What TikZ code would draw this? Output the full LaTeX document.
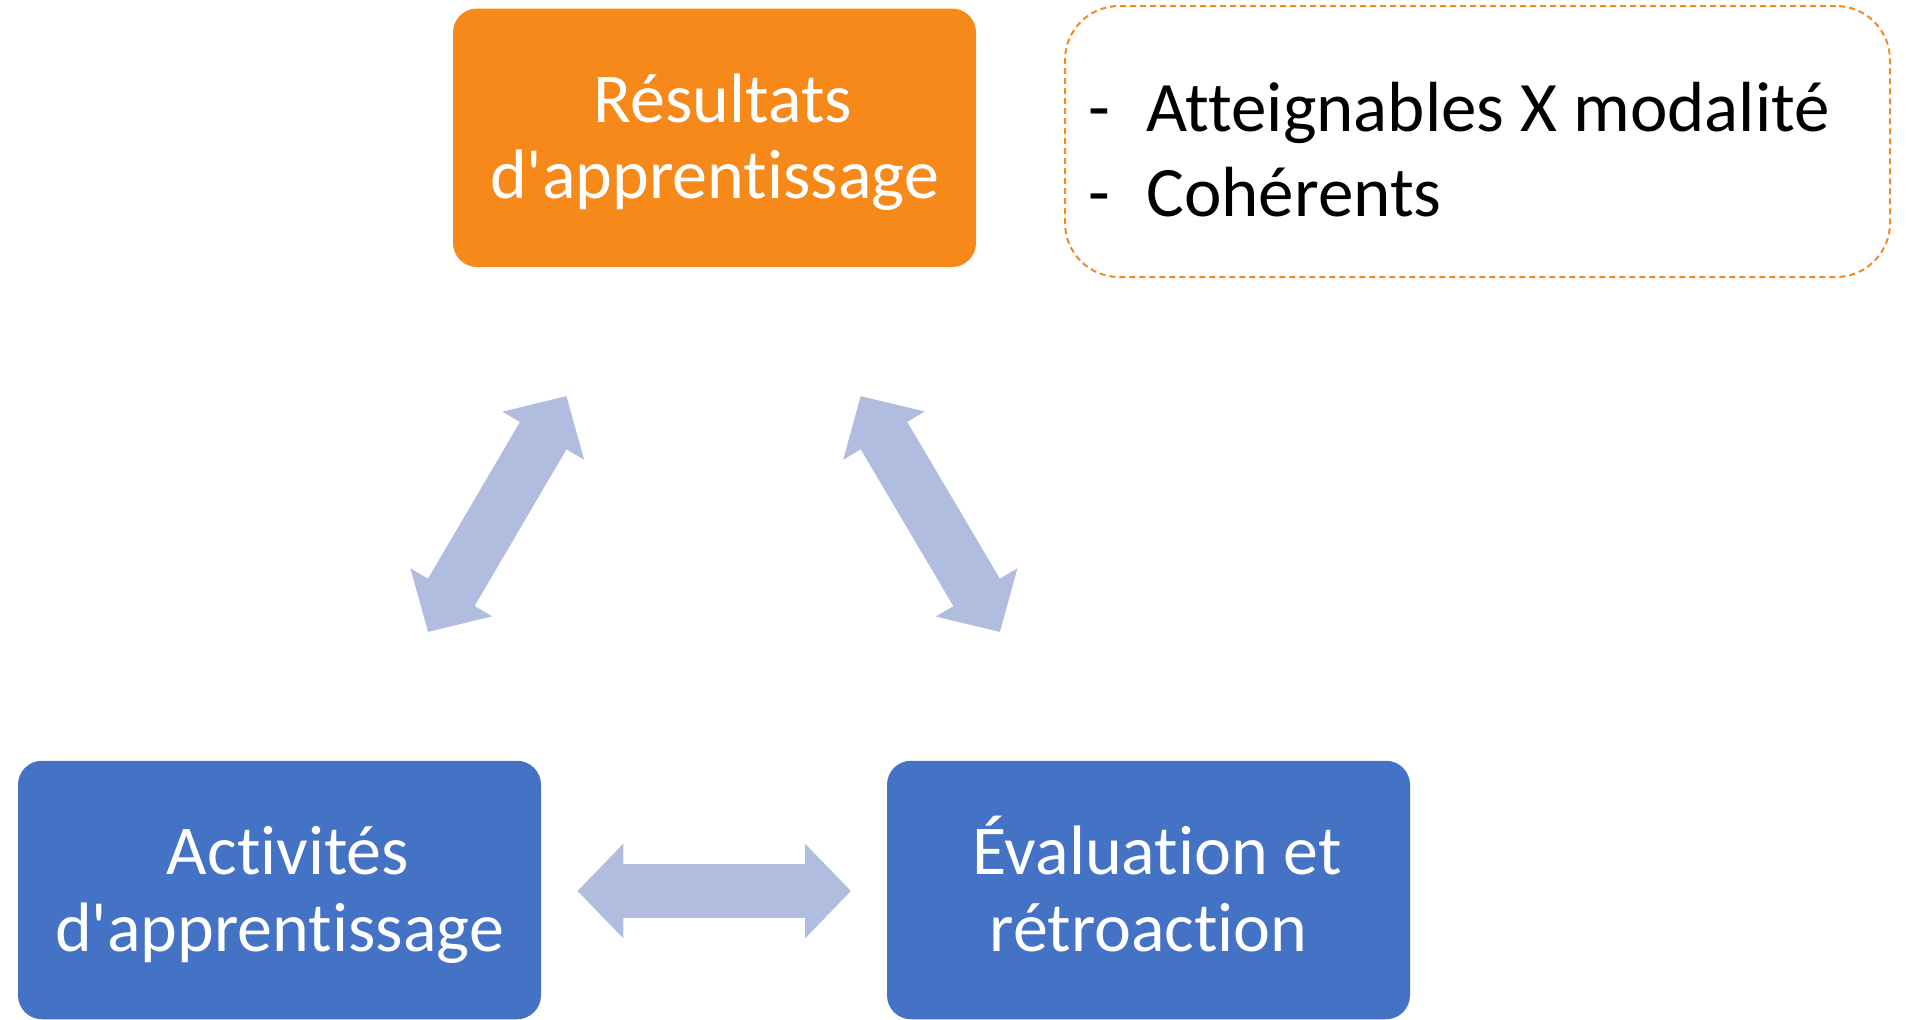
\documentclass[tikz,border=0pt]{standalone}
\usepackage{fontspec}
\setmainfont{Carlito}[Ligatures=NoCommon]
\usetikzlibrary{arrows.meta}
\definecolor{resorange}{HTML}{F7891B}
\definecolor{boxblue}{HTML}{4472C4}
\definecolor{linkblue}{HTML}{B1BDDF}
\newcommand{\topstrut}{\hspace*{8.5pt}\rule{0pt}{0.9em}}
\newcommand{\botstrut}{\rule[-0.25em]{0pt}{0pt}}

\begin{document}
\begin{tikzpicture}[x=0.5pt, y=-0.5pt,
    box/.style={rounded corners=12pt, minimum width=261.5pt, minimum height=129.25pt,
        align=center, text=white, inner sep=0pt, font=\fontsize{35}{38.3}\selectfont},
    link/.style={linkblue, line width=27pt,
        {Triangle[length=23pt,width=46pt]}-{Triangle[length=23pt,width=46pt]}},
    crittext/.style={anchor=base west, inner sep=0pt, font=\fontsize{35.5}{42}\selectfont}]
    \useasboundingbox (0,0) rectangle (1906,1019);
    % the three boxes
    \node [box, fill=resorange] (res) at (714.5,137.75)
        {\topstrut Résultats\\d\textquotesingle apprentissage\botstrut};
    \node [box, fill=boxblue] (act) at (279.5,890)
        {\topstrut Activités\\d\textquotesingle apprentissage\botstrut};
    \node [box, fill=boxblue] (eval) at (1148.5,890)
        {\topstrut Évaluation et\\rétroaction\botstrut};
    % note box
    \node [draw=resorange, dash pattern=on 3pt off 2pt, line width=1pt, rounded corners=27pt,
        minimum width=412.5pt, minimum height=135.5pt] (crit) at (1477.5,141.5) {};
    \node [crittext] (crit1) at (1088,131) {\makebox[29pt][l]{-}Atteignables X modalité};
    \node [crittext] (crit2) at (1088,216) {\makebox[29pt][l]{-}Cohérents};
    % arrow ends
    \coordinate (ra) at (566.5,396);
    \coordinate (ar) at (428,632);
    \coordinate (re) at (860.6,396);
    \coordinate (er) at (1000,632);
    \coordinate (ae) at (577.4,891);
    \coordinate (ea) at (851,891);
    \draw [link] (ar) -- (ra);
    \draw [link] (re) -- (er);
    \draw [link] (ae) -- (ea);
\end{tikzpicture}
\end{document}
